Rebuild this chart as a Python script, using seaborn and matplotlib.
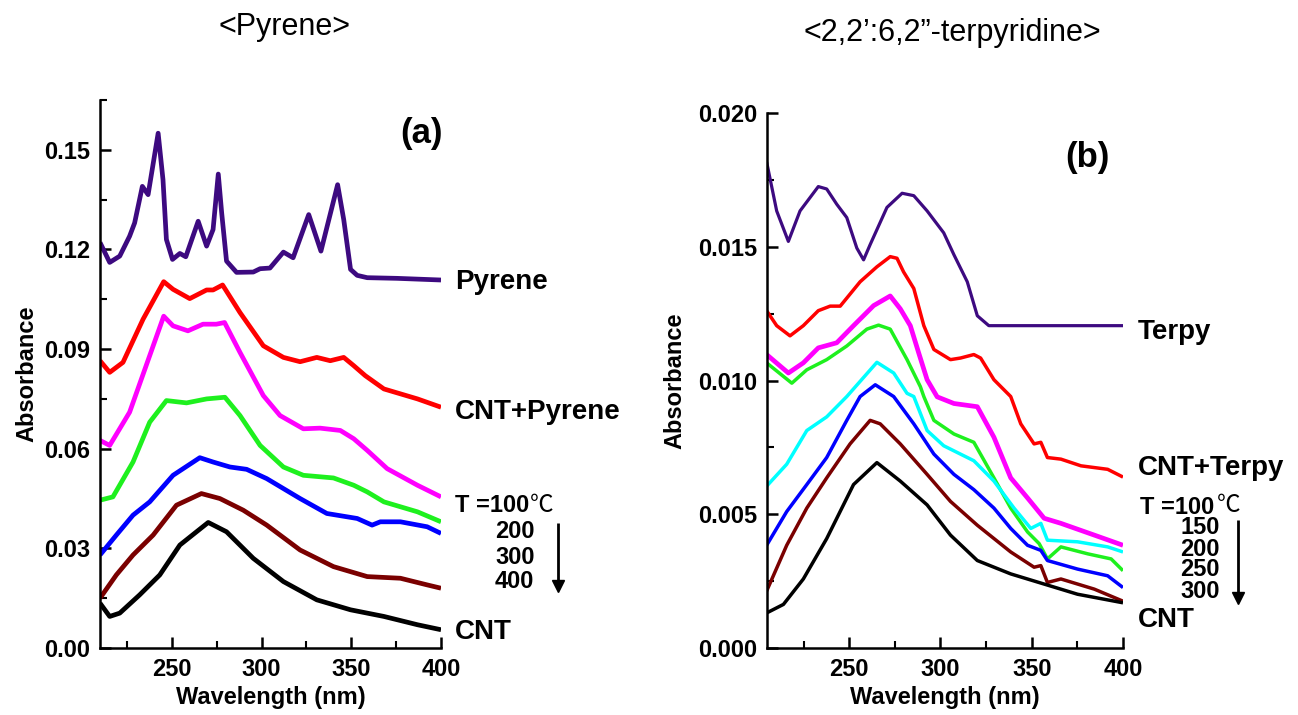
import numpy as np
import pandas as pd
import seaborn as sns
import matplotlib
matplotlib.use("Agg")
import matplotlib.pyplot as plt
from matplotlib.ticker import MultipleLocator

# ---- panel (a): pyrene ----
pyr_wl = [210, 215.4, 221, 226.5, 229.3, 233.6, 236.8, 242.4, 245.1, 247, 250.4, 254.5, 257.8,
          264.7, 269.4, 273, 275.9, 277.8, 280.5, 286.1, 295.4, 299.2, 304.7, 312.2, 317.6,
          326.3, 333.1, 342.4, 345.8, 349.6, 353.3, 358.9, 375.6, 400]
pyr_abs = [0.1221, 0.1161, 0.118, 0.124, 0.128, 0.139, 0.1365, 0.155, 0.141, 0.123, 0.117, 0.1188, 0.1178,
           0.1285, 0.121, 0.126, 0.1427, 0.131, 0.1165, 0.1131, 0.1132, 0.1142, 0.1144, 0.1192, 0.1175,
           0.1305, 0.1195, 0.1395, 0.129, 0.114, 0.1122, 0.1115, 0.1113, 0.1108]

cntpyr_wl = [210, 215.4, 222.8, 234, 245.5, 250.7, 260, 269.4, 273, 278.3, 288, 301, 312.2, 321.5,
             330.8, 338.3, 345.8, 351.4, 357.8, 368.2, 386.9, 400]
cntpyr_abs = [0.0865, 0.083, 0.086, 0.099, 0.1103, 0.108, 0.1052, 0.1078, 0.1078, 0.1093, 0.101, 0.091,
              0.0875, 0.0862, 0.0875, 0.0865, 0.0875, 0.085, 0.082, 0.078, 0.075, 0.0725]

p100_wl = [210, 215.4, 226.5, 245.5, 250.7, 259, 267.4, 274.8, 279.4, 288, 301, 310.3, 323.3, 332.6,
           343.9, 351.4, 358.9, 370, 386.9, 400]
p100_abs = [0.0625, 0.061, 0.071, 0.0999, 0.097, 0.0955, 0.0975, 0.0975, 0.098, 0.089, 0.076, 0.070,
            0.066, 0.0662, 0.0655, 0.063, 0.0595, 0.054, 0.049, 0.0455]

p200_wl = [210, 217.2, 228.4, 237.7, 247, 258.2, 269.4, 279.6, 288, 299.2, 312.2, 323.3, 340.1, 351.4,
           358.9, 368.2, 386.9, 400]
p200_abs = [0.0445, 0.0455, 0.056, 0.068, 0.0745, 0.0738, 0.075, 0.0755, 0.070, 0.061, 0.0545, 0.052,
            0.0512, 0.049, 0.047, 0.044, 0.041, 0.038]

p300_wl = [210, 219.1, 228.4, 237.7, 250.7, 265.6, 273, 282.4, 291.7, 302.9, 321.5, 336.4, 353.3,
           361.6, 366.2, 377.4, 392.3, 400]
p300_abs = [0.028, 0.034, 0.040, 0.044, 0.052, 0.0573, 0.056, 0.0545, 0.0538, 0.051, 0.045, 0.0405,
            0.039, 0.037, 0.038, 0.038, 0.0365, 0.0345]

p400_wl = [210, 219.1, 228.4, 239.6, 252.6, 266.5, 276.8, 289.8, 302.9, 321.5, 340.1, 358.9, 377.4,
           392.3, 400]
p400_abs = [0.015, 0.022, 0.028, 0.034, 0.043, 0.0465, 0.045, 0.0415, 0.037, 0.0295, 0.0245, 0.0215,
            0.021, 0.019, 0.018]

pcnt_wl = [210, 215.4, 221, 232.1, 243.3, 254.5, 270.3, 280.5, 295.4, 312.2, 330.8, 349.6, 368.2,
           386.9, 400]
pcnt_abs = [0.0135, 0.0095, 0.0105, 0.016, 0.022, 0.031, 0.0378, 0.035, 0.027, 0.020, 0.0145, 0.0115,
            0.0095, 0.007, 0.0055]

# ---- panel (b): terpyridine ----
terpy_wl = [204.8, 210.3, 216.7, 223.1, 233.1, 237.7, 243.2, 248.7, 254.2, 257.9, 261.5, 270.7, 279,
            285.4, 292.7, 301.8, 307.4, 314.7, 320.2, 326.5, 347.7, 400]
terpy_abs = [0.01817, 0.01634, 0.0152, 0.01634, 0.01725, 0.01716, 0.01659, 0.01609, 0.01495, 0.01451,
             0.01508, 0.01647, 0.017, 0.01691, 0.01634, 0.01552, 0.0147, 0.01369, 0.01242, 0.01205,
             0.01205, 0.01205]

cntterpy_wl = [204.8, 210.3, 217.6, 224.9, 233.1, 239.6, 245.1, 256, 265.2, 272.5, 276.2, 279.8, 285.4,
               290.9, 296.4, 305.5, 311, 318.3, 322, 329.3, 338.5, 344, 351.3, 355, 358.6, 366, 377,
               391.6, 400]
cntterpy_abs = [0.01261, 0.01205, 0.01167, 0.01205, 0.01261, 0.01278, 0.01278, 0.01369, 0.01425, 0.01463,
                0.01457, 0.01406, 0.01344, 0.01205, 0.01116, 0.01078, 0.01084, 0.01097, 0.01084, 0.01003,
                0.0094, 0.00838, 0.00763, 0.00769, 0.00712, 0.00706, 0.00681, 0.00668, 0.00639]

t100_wl = [204.8, 216.7, 224.9, 233.1, 243.2, 252.4, 263.4, 272.5, 278, 283.5, 288.1, 292.7, 298.2,
           307.4, 320.2, 329.3, 338.5, 347.7, 356.8, 366, 384.3, 400]
t100_abs = [0.01097, 0.01028, 0.01066, 0.01122, 0.01141, 0.01205, 0.0128, 0.01316, 0.01268, 0.01205,
            0.01103, 0.01003, 0.00939, 0.00914, 0.00902, 0.00788, 0.00636, 0.00561, 0.00485, 0.00466,
            0.00422, 0.00384]

t150_wl = [204.8, 218.6, 226.8, 237.7, 248.7, 259.7, 266.1, 272.5, 281.7, 289, 290.9, 296.4, 307.4,
           318.3, 329.3, 338.5, 347.7, 354.1, 358.6, 366, 380.7, 393.5, 400]
t150_abs = [0.01066, 0.0099, 0.0104, 0.01078, 0.01129, 0.01192, 0.01207, 0.01192, 0.01078, 0.00977,
            0.0094, 0.00851, 0.008, 0.00769, 0.00636, 0.00523, 0.00434, 0.0039, 0.00333, 0.00378,
            0.00352, 0.00333, 0.00289]

t200_wl = [204.8, 215.8, 226.8, 237.7, 248.7, 265.2, 274.4, 281.7, 285.4, 292.7, 301.8, 318.3, 329.3,
           340.3, 349.5, 355, 358.6, 375.1, 391.6, 400]
t200_abs = [0.00605, 0.00687, 0.00813, 0.00864, 0.0094, 0.01068, 0.01028, 0.00952, 0.0094, 0.00813,
            0.00756, 0.007, 0.00624, 0.00523, 0.00447, 0.00466, 0.00403, 0.00397, 0.00378, 0.00359]

t250_wl = [204.8, 215.8, 226.8, 237.7, 248.7, 256, 264.3, 274.4, 285.4, 296.4, 307.4, 318.3, 329.3,
           338.5, 347.7, 355, 358.6, 375.1, 391.6, 400]
t250_abs = [0.00384, 0.0051, 0.00611, 0.00712, 0.00851, 0.0094, 0.00984, 0.0094, 0.00838, 0.00725,
            0.00649, 0.00592, 0.00523, 0.00447, 0.00384, 0.00365, 0.00327, 0.00295, 0.0027, 0.00226]

t300_wl = [204.8, 215.8, 226.8, 237.7, 250.5, 261.5, 267, 278, 292.7, 305.5, 320.2, 338.5, 351.3, 355,
           358.6, 366, 384.3, 400]
t300_abs = [0.00213, 0.00384, 0.00523, 0.00636, 0.00763, 0.00851, 0.00838, 0.00763, 0.00649, 0.00548,
            0.00459, 0.00359, 0.00302, 0.00308, 0.00245, 0.00258, 0.0022, 0.00175]

tcnt_wl = [204.8, 214, 224.9, 237.7, 252.4, 265.2, 278, 292.7, 305.5, 320.2, 338.5, 356.8, 375.1, 400]
tcnt_abs = [0.00131, 0.00163, 0.00258, 0.00409, 0.00611, 0.00693, 0.00624, 0.00535, 0.00422, 0.00327,
            0.00277, 0.00239, 0.00201, 0.00169]

PURPLE = "#3d0a80"
RED = "#ff0000"
MAGENTA = "#ff00ff"
GREEN = "#1ef01e"
CYAN = "#00ffff"
BLUE = "#0000ff"
MAROON = "#7a0000"
BLACK = "#000000"

sns.set_style("ticks")
plt.rcParams["font.family"] = ["Liberation Sans", "DejaVu Sans"]
plt.rcParams["font.weight"] = "bold"
plt.rcParams["text.color"] = "black"
plt.rcParams["axes.labelcolor"] = "black"
plt.rcParams["lines.solid_joinstyle"] = "round"
plt.rcParams["lines.solid_capstyle"] = "butt"

W, H = 1298, 715
fig = plt.figure(figsize=(W / 100, H / 100), dpi=100)


def px_axes(x0, y0, x1, y1):
    return fig.add_axes([x0 / W, 1 - y1 / H, (x1 - x0) / W, (y1 - y0) / H])


ax_a = px_axes(100, 100, 441, 648)
ax_b = px_axes(767, 113, 1123, 648)

series_a = [
    (pyr_wl, pyr_abs, PURPLE, 3.4),
    (cntpyr_wl, cntpyr_abs, RED, 3.4),
    (p100_wl, p100_abs, MAGENTA, 3.4),
    (p200_wl, p200_abs, GREEN, 3.4),
    (p300_wl, p300_abs, BLUE, 3.4),
    (p400_wl, p400_abs, MAROON, 3.4),
    (pcnt_wl, pcnt_abs, BLACK, 3.4),
]
series_b = [
    (terpy_wl, terpy_abs, PURPLE, 2.3),
    (cntterpy_wl, cntterpy_abs, RED, 2.5),
    (t100_wl, t100_abs, MAGENTA, 3.4),
    (t150_wl, t150_abs, GREEN, 2.5),
    (t200_wl, t200_abs, CYAN, 2.5),
    (t250_wl, t250_abs, BLUE, 2.5),
    (t300_wl, t300_abs, MAROON, 2.5),
    (tcnt_wl, tcnt_abs, BLACK, 2.5),
]

for ax, series in [(ax_a, series_a), (ax_b, series_b)]:
    for wl, ab, col, lw in series:
        df = pd.DataFrame({"wl": wl, "abs": ab})
        sns.lineplot(data=df, x="wl", y="abs", ax=ax, color=col, lw=lw,
                     sort=False, estimator=None)

ax_a.set_xlim(210, 400)
ax_a.set_ylim(0, 0.165)
ax_a.yaxis.set_minor_locator(MultipleLocator(0.015))
ax_a.set_yticks([0, 0.03, 0.06, 0.09, 0.12, 0.15])
ax_a.set_yticklabels(["0.00", "0.03", "0.06", "0.09", "0.12", "0.15"])

ax_b.set_xlim(205, 400)
ax_b.set_ylim(0, 0.020)
ax_b.yaxis.set_minor_locator(MultipleLocator(0.0025))
ax_b.set_yticks([0, 0.005, 0.010, 0.015, 0.020])
ax_b.set_yticklabels(["0.000", "0.005", "0.010", "0.015", "0.020"])

for ax, h in [(ax_a, 548), (ax_b, 535)]:
    ax.set_xticks([250, 300, 350, 400])
    ax.xaxis.set_minor_locator(MultipleLocator(25))
    sns.despine(ax=ax)
    for s in ["left", "bottom"]:
        ax.spines[s].set_linewidth(1.8)
        ax.spines[s].set_color("black")
    ax.tick_params(which="major", direction="in", length=8, width=1.8, labelsize=17, pad=7,
                   colors="black")
    ax.tick_params(which="minor", direction="in", length=5, width=1.5, colors="black")
    for lab in ax.get_xticklabels() + ax.get_yticklabels():
        lab.set_fontweight("bold")
    ax.set_xlabel("Wavelength (nm)", fontsize=17, fontweight="bold")
    ax.set_ylabel("Absorbance", fontsize=17, fontweight="bold")
    ax.xaxis.set_label_coords(0.5, -(686 - 648) / h)

ax_a.yaxis.set_label_coords((38 - 100) / 341, 0.5)
ax_b.yaxis.set_label_coords((686 - 767) / 356, 0.5)


def ftext(x, y, s, size, weight="bold", ha="left", va="center", family=None):
    kw = {} if family is None else {"family": family}
    fig.text(x / W, 1 - y / H, s, fontsize=size, fontweight=weight, ha=ha, va=va, **kw)


CJK = ["Noto Sans CJK SC", "DejaVu Sans"]

# titles and panel tags
ftext(285, 27, "<Pyrene>", 22, weight="normal", ha="center")
ftext(952, 33, "<2,2\u2019:6,2\u201d-terpyridine>", 22, weight="normal", ha="center")
ftext(422, 133, "(a)", 25, ha="center")
ftext(1087, 157, "(b)", 25, ha="center")

# curve labels, panel (a)
ftext(455, 506, "T =100", 17)
ftext(530, 505, "\u2103", 17, weight="normal", family=CJK)
ftext(455, 282, "Pyrene", 20)
ftext(455, 412, "CNT+Pyrene", 20)
ftext(495, 532, "200", 17)
ftext(495, 557, "300", 17)
ftext(495, 582, "400", 17)
ftext(455, 632, "CNT", 20)
fig.add_artist(plt.Line2D([558 / W, 558 / W], [1 - 523 / H, 1 - 580 / H], color="black", lw=2))
fig.add_artist(plt.Line2D([558 / W], [1 - 586 / H], marker="v", color="black", ms=8))

# curve labels, panel (b)
ftext(1138, 332, "Terpy", 20)
ftext(1138, 468, "CNT+Terpy", 20)
ftext(1140, 507, "T =100", 17)
ftext(1217, 506, "\u2103", 17, weight="normal", family=CJK)
ftext(1180, 528, "150", 17)
ftext(1180, 549, "200", 17)
ftext(1180, 570, "250", 17)
ftext(1180, 591, "300", 17)
ftext(1138, 620, "CNT", 20)
fig.add_artist(plt.Line2D([1238 / W, 1238 / W], [1 - 520 / H, 1 - 594 / H], color="black", lw=2))
fig.add_artist(plt.Line2D([1238 / W], [1 - 598 / H], marker="v", color="black", ms=8))

fig.savefig("out.png", dpi=100, facecolor="white")
